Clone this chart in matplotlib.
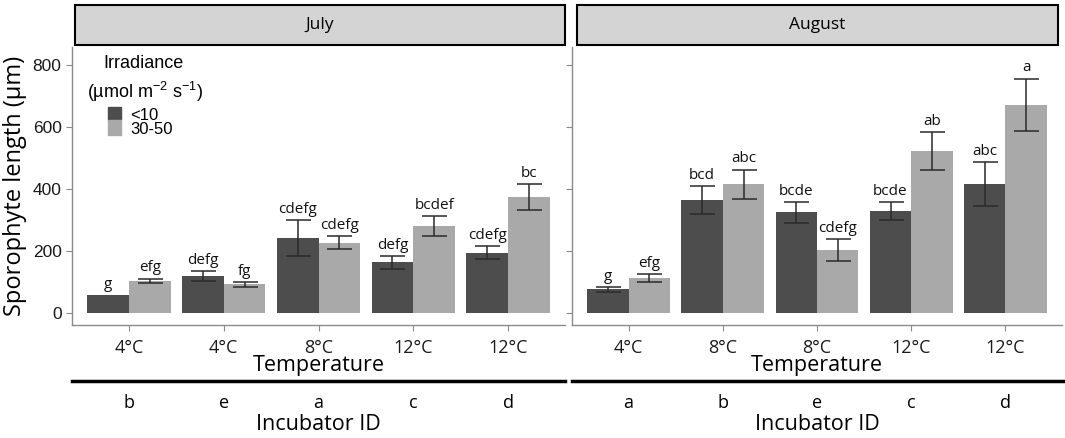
import matplotlib
matplotlib.use("Agg")
import matplotlib.pyplot as plt
from matplotlib.patches import Rectangle
import numpy as np

plt.rcParams['font.family'] = ['Open Sans', 'DejaVu Sans']
plt.rcParams['mathtext.fontset'] = 'custom'
plt.rcParams['mathtext.rm'] = 'Liberation Sans'
plt.rcParams['mathtext.it'] = 'Liberation Sans'
plt.rcParams['mathtext.default'] = 'regular'

months = ["July", "August"]
temps = {"July": ["4°C", "4°C", "8°C", "12°C", "12°C"],
         "August": ["4°C", "8°C", "8°C", "12°C", "12°C"]}
incubators = {"July": ["b", "e", "a", "c", "d"],
              "August": ["a", "b", "e", "c", "d"]}
irradiance = ["<10", "30-50"]

low_mean = {"July": [56, 118, 241, 162, 194],
            "August": [75, 363, 324, 328, 415]}
low_err = {"July": [0, 17, 59, 21, 20],
           "August": [7, 45, 34, 30, 72]}
high_mean = {"July": [103, 91, 225, 280, 373],
             "August": [113, 414, 203, 522, 671]}
high_err = {"July": [7, 7, 21, 31, 42],
            "August": [13, 48, 35, 62, 85]}
low_letters = {"July": ["g", "defg", "cdefg", "defg", "cdefg"],
               "August": ["g", "bcd", "bcde", "bcde", "abc"]}
high_letters = {"July": ["efg", "fg", "cdefg", "bcdef", "bc"],
                "August": ["efg", "abc", "cdefg", "ab", "a"]}

W, H = 1065, 438
fig = plt.figure(figsize=(W / 100, H / 100), dpi=100)

def fx(px):
    return px / W

def fy(py):
    return 1 - py / H

dark = "#4d4d4d"
light = "#a9a9a9"
spine_c = "#8a8a8a"
arial = ['Liberation Sans', 'DejaVu Sans']

panels = {"July": (72, 565), "August": (572, 1062)}
strips = {"July": (75, 565), "August": (577, 1058)}
top_px, bot_px = 47, 325
bw = 0.44

for m in months:
    x0, x1 = panels[m]
    ax = fig.add_axes([fx(x0), fy(bot_px), fx(x1 - x0), (bot_px - top_px) / H])
    x = np.arange(5)
    ax.bar(x - bw / 2, low_mean[m], width=bw, color=dark)
    ax.bar(x + bw / 2, high_mean[m], width=bw, color=light)
    for xs, mean, err, lets in [(x - bw / 2, low_mean[m], low_err[m], low_letters[m]),
                                (x + bw / 2, high_mean[m], high_err[m], high_letters[m])]:
        for xi, mi, ei, li in zip(xs, mean, err, lets):
            if ei > 0:
                ax.errorbar([xi], [mi], yerr=[ei], fmt='none', ecolor="#2a2a2a",
                            elinewidth=1.1, capsize=9, capthick=1.1)
            ax.text(xi, mi + ei + 10, li, ha='center', va='bottom',
                    fontsize=11, color="#111111")
    ax.set_xlim(-0.6, 4.6)
    ax.set_ylim(-40, 858)
    ax.set_yticks([0, 200, 400, 600, 800])
    ax.set_xticks(x)
    ax.set_xticklabels(temps[m], fontsize=13)
    for s in ['top', 'right']:
        ax.spines[s].set_visible(False)
    for s in ['left', 'bottom']:
        ax.spines[s].set_color(spine_c)
        ax.spines[s].set_linewidth(1.0)
    ax.tick_params(axis='both', colors=spine_c, length=4, labelcolor="#1a1a1a")
    ax.tick_params(axis='x', pad=6)
    if m == "July":
        ax.tick_params(axis='y', labelsize=12.5)
        for lab in ax.get_yticklabels():
            lab.set_family(arial)
        ax.set_ylabel("Sporophyte length (µm)", fontsize=17, labelpad=4)
        ax.text(0.063, 0.939, "Irradiance", transform=ax.transAxes,
                fontsize=13, va='center', ha='left', family=arial)
        ax.text(0.030, 0.838, "(µmol m$^{-2}$ s$^{-1}$)", transform=ax.transAxes,
                fontsize=13, va='center', ha='left', family=arial)
        boxes = [(0.737, 0.047), (0.683, 0.054)]
        ly = [0.755, 0.705]
        for (yb, hh), yl, lab, c in zip(boxes, ly, irradiance, [dark, light]):
            ax.add_patch(Rectangle((0.073, yb), 0.026, hh, transform=ax.transAxes,
                                   color=c, clip_on=False))
            ax.text(0.118, yl, lab, transform=ax.transAxes,
                    fontsize=12, va='center', ha='left', family=arial)
    else:
        ax.tick_params(axis='y', labelleft=False)

    # strip
    s0, s1 = strips[m]
    fig.patches.append(Rectangle((fx(s0), fy(45)), fx(s1 - s0), 40 / H,
                                 transform=fig.transFigure, facecolor="#d4d4d4",
                                 edgecolor="black", linewidth=1.5))
    fig.text(fx((s0 + s1) / 2), fy(25), m, ha='center', va='center', fontsize=12.5)

    cx = (x0 + x1) / 2
    fig.text(fx(cx), fy(366), "Temperature", ha='center', va='center', fontsize=15.5)
    fig.add_artist(plt.Line2D([fx(x0), fx(x1 + (3 if m == "August" else 0))], [fy(381), fy(381)],
                              transform=fig.transFigure, color='black', linewidth=2.5))
    # incubator IDs
    for xi, lab in zip(x, incubators[m]):
        disp = ax.transData.transform((xi, 0))
        fxx = fig.transFigure.inverted().transform(disp)[0]
        fig.text(fxx, fy(403), lab, ha='center', va='center', fontsize=13)
    fig.text(fx(cx), fy(425), "Incubator ID", ha='center', va='center', fontsize=15.5)

fig.savefig("out.png", dpi=100, facecolor='white')
